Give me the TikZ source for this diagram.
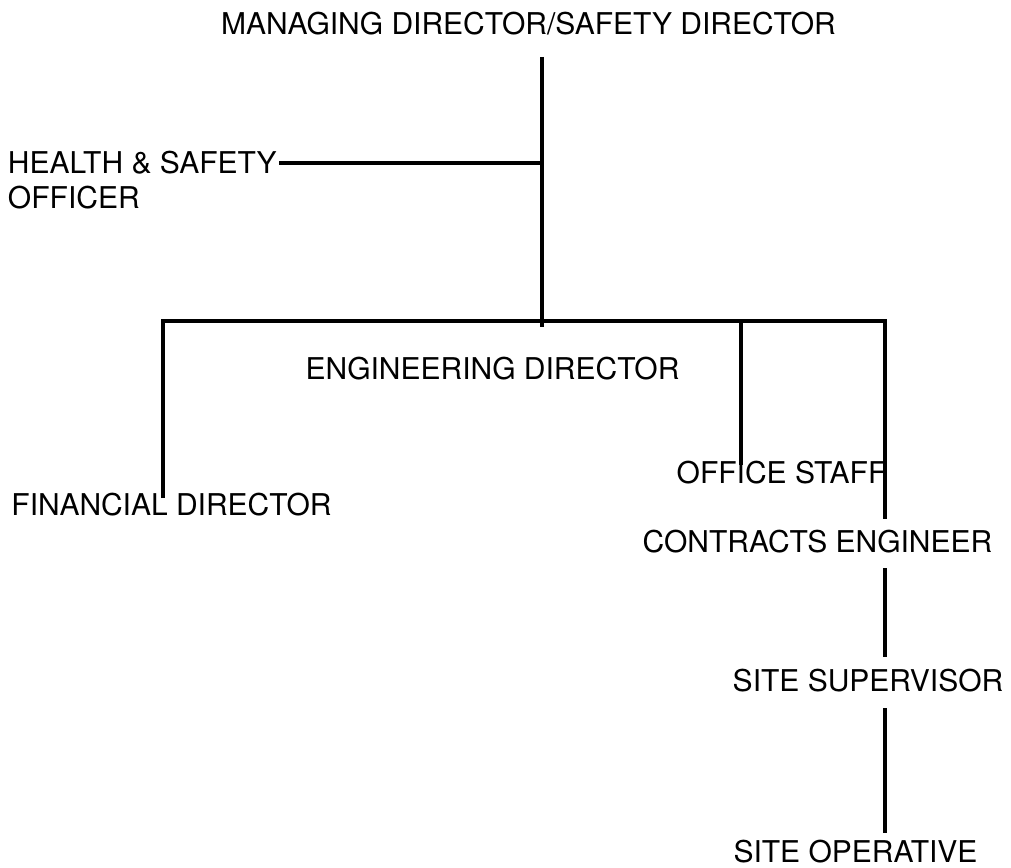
\documentclass[tikz,border=0pt]{standalone}
\usepackage{fontspec}
\setmainfont{TeX Gyre Heros}
\begin{document}
\begin{tikzpicture}[x=1pt,y=-1pt,
  lbl/.style={inner sep=0pt,outer sep=0pt,anchor=base,font=\fontsize{30}{35}\selectfont},
  link/.style={line width=4pt,line join=miter,draw=black}]
\useasboundingbox[fill=white] (0,0) rectangle (1011,867);
% nodes
\node[lbl] (md) at (528.5,35) {MANAGING DIRECTOR/SAFETY DIRECTOR};
\node[lbl,anchor=base west,align=left] (hs) at (8,208) {HEALTH \& SAFETY\\OFFICER};
\node[lbl] (ed) at (492.5,379) {ENGINEERING DIRECTOR};
\node[lbl] (fd) at (171.5,515) {FINANCIAL DIRECTOR};
\node[lbl] (os) at (781.5,483) {OFFICE STAFF};
\node[lbl] (ce) at (817.5,552) {CONTRACTS ENGINEER};
\node[lbl] (ss) at (868,691) {SITE SUPERVISOR};
\node[lbl] (so) at (855.5,862) {SITE OPERATIVE};
% junction coordinates
\coordinate (mdend) at (542,57);
\coordinate (trunk) at (542,327);
\coordinate (hsj) at (542,163);
\coordinate (hsend) at (279,163);
\coordinate (fdend) at (163,498);
\coordinate (barl) at (163,321);
\coordinate (barr) at (885,321);
\coordinate (ceend) at (885,519);
\coordinate (osj) at (741,321);
\coordinate (osend) at (741,465);
\coordinate (ce1) at (885,568);
\coordinate (ss1) at (885,657);
\coordinate (ss2) at (885,708);
\coordinate (so1) at (885,833);
% connectors
\draw[link] (mdend) -- (trunk);
\draw[link] (hsend) -- (hsj);
\draw[link] (fdend) -- (barl) -- (barr) -- (ceend);
\draw[link] (osj) -- (osend);
\draw[link] (ce1) -- (ss1);
\draw[link] (ss2) -- (so1);
\end{tikzpicture}
\end{document}
